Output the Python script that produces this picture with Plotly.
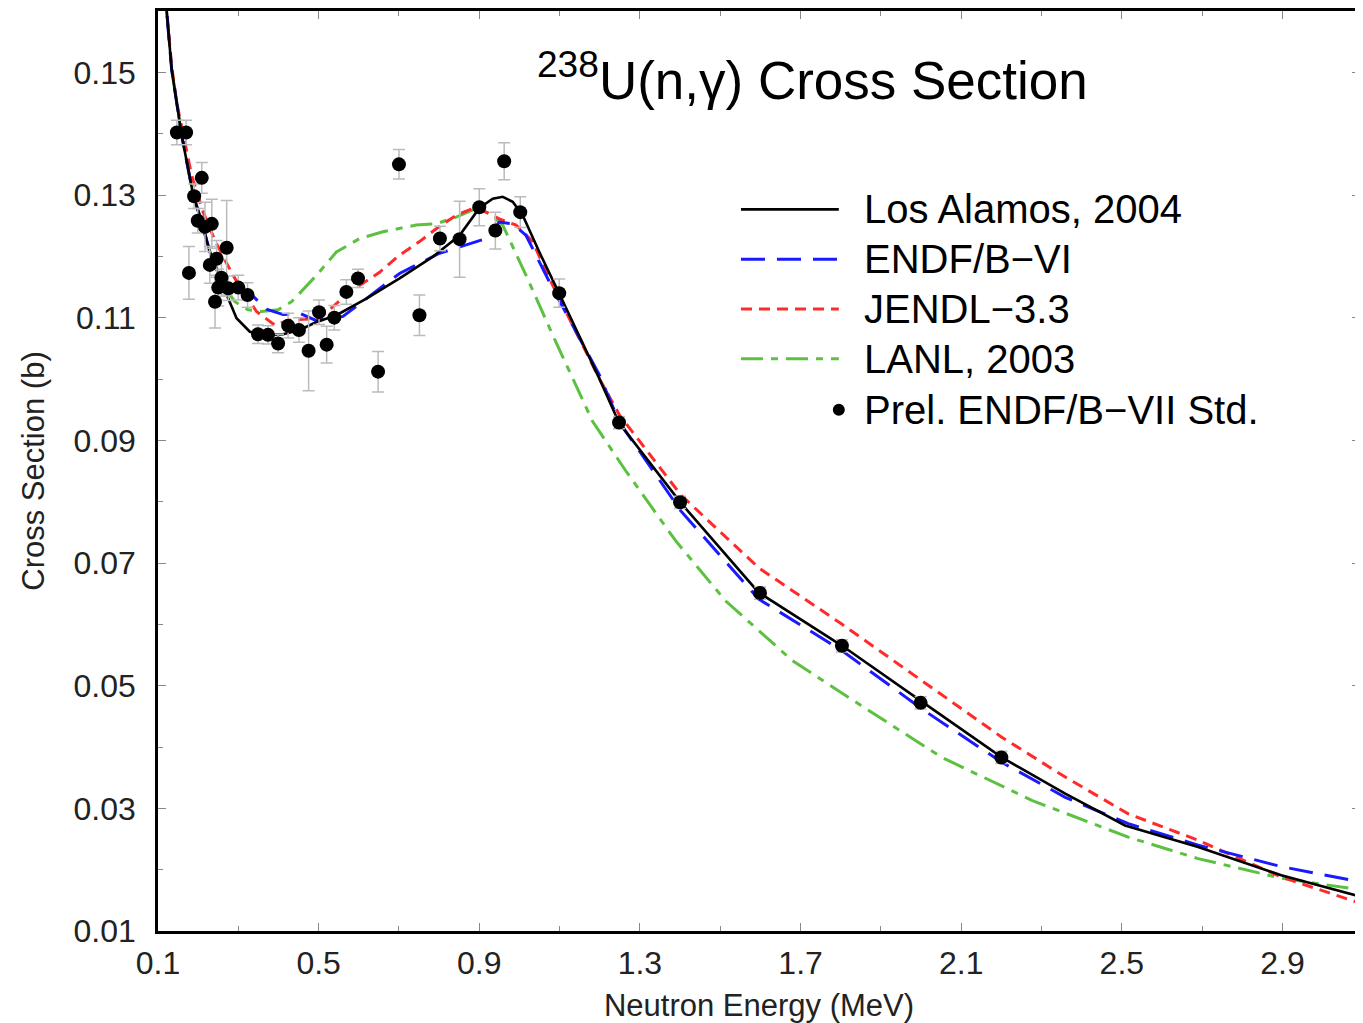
import plotly.graph_objects as go

# Los Alamos, 2004 evaluation
lanl04_e = [0.115, 0.1216, 0.134, 0.159, 0.1753, 0.1877, 0.2086, 0.2293, 0.2541, 0.2708,
            0.2956, 0.3287, 0.370, 0.4115, 0.453, 0.4945, 0.5442, 0.6188, 0.7015, 0.7836,
            0.8507, 0.9004, 0.9335, 0.9583, 0.9832, 1.008, 1.0495, 1.0993, 1.1987, 1.2484,
            1.4018, 1.5954, 1.8035, 2.002, 2.201, 2.359, 2.508, 2.690, 2.897, 3.095]
lanl04_xs = [0.165, 0.160, 0.1505, 0.1397, 0.1343, 0.130, 0.1256, 0.1207, 0.1164, 0.1137,
             0.1099, 0.1077, 0.1072, 0.1073, 0.108, 0.1093, 0.1104, 0.1131, 0.1164, 0.1199,
             0.1234, 0.1279, 0.1294, 0.1297, 0.1289, 0.1267, 0.1207, 0.1139, 0.1001, 0.0928,
             0.0798, 0.0652, 0.0565, 0.0474, 0.0383, 0.0324, 0.0272, 0.0237, 0.0191, 0.0156]

# ENDF/B-VI
endf6_e = [0.115, 0.1216, 0.134, 0.159, 0.1753, 0.1877, 0.2086, 0.2293, 0.2541, 0.279,
           0.3287, 0.370, 0.4115, 0.453, 0.4945, 0.5606, 0.6188, 0.7015, 0.801, 0.8673,
           0.917, 0.950, 0.9832, 1.0165, 1.0826, 1.1987, 1.2484, 1.4018, 1.596, 1.8035,
           2.002, 2.201, 2.359, 2.516, 2.690, 2.897, 3.095]
endf6_xs = [0.165, 0.160, 0.1505, 0.1397, 0.1343, 0.130, 0.1256, 0.1207, 0.1168, 0.1153,
            0.114, 0.1114, 0.1105, 0.1107, 0.1095, 0.1102, 0.1131, 0.1172, 0.1205, 0.1218,
            0.1229, 0.1256, 0.1253, 0.1234, 0.1148, 0.1007, 0.0930, 0.0785, 0.0641, 0.0557,
            0.0462, 0.0375, 0.0318, 0.0275, 0.0240, 0.0205, 0.0180]

# JENDL-3.3
jendl_e = [0.115, 0.1216, 0.134, 0.1465, 0.1838, 0.2126, 0.2417, 0.2665, 0.2914, 0.3453,
           0.3908, 0.4281, 0.5027, 0.5773, 0.6518, 0.7015, 0.7513, 0.7928, 0.8425, 0.8838,
           0.917, 0.950, 0.9916, 1.0329, 1.0744, 1.1987, 1.2484, 1.4018, 1.596, 1.8035,
           2.002, 2.201, 2.359, 2.516, 2.690, 2.897, 3.095]
jendl_xs = [0.165, 0.160, 0.151, 0.1451, 0.1332, 0.1272, 0.1226, 0.1194, 0.1164, 0.111,
            0.1088, 0.1096, 0.1099, 0.1142, 0.1174, 0.1202, 0.1224, 0.1245, 0.1267, 0.1278,
            0.1272, 0.1261, 0.1251, 0.1224, 0.1164, 0.1001, 0.0942, 0.0811, 0.0692, 0.0600,
            0.0508, 0.0416, 0.0351, 0.0291, 0.0248, 0.0188, 0.0145]

# LANL, 2003
lanl03_e = [0.115, 0.1216, 0.134, 0.159, 0.1753, 0.1877, 0.2086, 0.2293, 0.2499, 0.2914,
            0.3245, 0.3578, 0.399, 0.4323, 0.453, 0.4945, 0.5442, 0.6021, 0.660, 0.743,
            0.7928, 0.8425, 0.8922, 0.9253, 0.9583, 1.0165, 1.0826, 1.182, 1.265, 1.3893,
            1.5136, 1.6792, 1.845, 2.052, 2.2757, 2.516, 2.690, 2.897, 3.095]
lanl03_xs = [0.165, 0.160, 0.1505, 0.1397, 0.1343, 0.130, 0.1256, 0.1207, 0.1164, 0.1126,
             0.1113, 0.1110, 0.1113, 0.1126, 0.114, 0.1169, 0.1207, 0.1229, 0.1240, 0.1251,
             0.1253, 0.1264, 0.1278, 0.1270, 0.1251, 0.1169, 0.1072, 0.0931, 0.0850, 0.0736,
             0.0638, 0.0541, 0.0470, 0.0383, 0.0313, 0.0253, 0.0218, 0.0186, 0.0167]

# Prel. ENDF/B-VII standards points
std_e = [0.147, 0.170, 0.177, 0.190, 0.199, 0.209, 0.217, 0.229, 0.234, 0.242,
         0.246, 0.250, 0.258, 0.271, 0.275, 0.300, 0.323, 0.349, 0.374, 0.399,
         0.424, 0.451, 0.475, 0.501, 0.520, 0.539, 0.569, 0.598, 0.648, 0.700,
         0.751, 0.802, 0.851, 0.900, 0.940, 0.962, 1.002, 1.099, 1.248, 1.400,
         1.599, 1.803, 1.999, 2.200]
std_xs = [0.1402, 0.1402, 0.1173, 0.1298, 0.1258, 0.1328, 0.1248, 0.1186, 0.1253, 0.1126,
          0.1196, 0.1149, 0.1165, 0.1214, 0.1148, 0.1149, 0.1137, 0.1073, 0.1072, 0.1058,
          0.1087, 0.1080, 0.1046, 0.1109, 0.1056, 0.1100, 0.1142, 0.1164, 0.1012, 0.1350,
          0.1104, 0.1229, 0.1228, 0.1280, 0.1242, 0.1355, 0.1272, 0.1140, 0.0929, 0.0799,
          0.0651, 0.0565, 0.0472, 0.0383]
std_err = [0.002, 0.002, 0.0043, 0.002, 0.002, 0.0025, 0.004, 0.003, 0.004, 0.0043,
           0.003, 0.003, 0.003, 0.0077, 0.002, 0.002, 0.002, 0.0015, 0.0015, 0.0015,
           0.002, 0.002, 0.0065, 0.002, 0.003, 0.002, 0.002, 0.0015, 0.0033, 0.0024,
           0.0033, 0.002, 0.0062, 0.003, 0.003, 0.003, 0.0025, 0.0023, 0.001, 0.001,
           0.001, 0.001, 0.001, 0.001]

labels = ["Los Alamos, 2004", "ENDF/B\u2212VI", "JENDL\u22123.3", "LANL, 2003",
          "Prel. ENDF/B\u2212VII Std."]

FONT = "Liberation Sans, Arial, sans-serif"
BLUE = "#1a1aff"
RED = "#ff2b2b"
GREEN = "#5cc040"
DASH_BLUE = "24px,12px"
DASH_RED = "11px,7px"
DASH_GREEN = "22px,8px,7px,8px"

fig = go.Figure()

fig.add_trace(go.Scatter(x=lanl03_e, y=lanl03_xs, mode="lines",
                         line=dict(color=GREEN, width=3, dash=DASH_GREEN)))
fig.add_trace(go.Scatter(x=jendl_e, y=jendl_xs, mode="lines",
                         line=dict(color=RED, width=3, dash=DASH_RED)))
fig.add_trace(go.Scatter(x=endf6_e, y=endf6_xs, mode="lines",
                         line=dict(color=BLUE, width=3, dash=DASH_BLUE)))
fig.add_trace(go.Scatter(x=lanl04_e, y=lanl04_xs, mode="lines",
                         line=dict(color="black", width=2.6)))
fig.add_trace(go.Scatter(x=std_e, y=std_xs, mode="markers",
                         marker=dict(color="black", size=14),
                         error_y=dict(type="data", array=std_err, color="#bbbbbb",
                                      thickness=1.5, width=6)))

# hand-drawn legend (long line samples like the original)
rows = [0.7844, 0.7302, 0.676, 0.6219, 0.5666]
styles = [("black", "solid", 2.6), (BLUE, DASH_BLUE, 3), (RED, DASH_RED, 3),
          (GREEN, DASH_GREEN, 3)]
for yy, (col, dash, w) in zip(rows[:4], styles):
    fig.add_shape(type="line", xref="paper", yref="paper", x0=0.485, x1=0.5664,
                  y0=yy, y1=yy, line=dict(color=col, width=w, dash=dash))
fig.add_shape(type="circle", xref="paper", yref="paper", xsizemode="pixel",
              ysizemode="pixel", xanchor=0.5664, yanchor=rows[4],
              x0=-6, x1=6, y0=-6, y1=6, fillcolor="black", line=dict(width=0))
for yy, lab in zip(rows, labels):
    fig.add_annotation(xref="paper", yref="paper", x=0.5855, y=yy, text=lab,
                       showarrow=False, xanchor="left", yanchor="middle",
                       font=dict(family=FONT, size=40, color="black"))

fig.add_annotation(xref="paper", yref="paper", x=0.5445, y=0.929,
                   text="<sup>238</sup>U(n,\u03b3) Cross Section", showarrow=False,
                   xanchor="center", yanchor="middle",
                   font=dict(family=FONT, size=53, color="black"))

axis_common = dict(showgrid=False, zeroline=False, showline=True, linecolor="black",
                   linewidth=2.5, mirror="allticks", ticks="inside", ticklen=8,
                   tickcolor="#888888", tickwidth=1.2,
                   tickfont=dict(family=FONT, size=32, color="#222222"))

fig.update_xaxes(range=[0.1, 3.093], tick0=0.1, dtick=0.4,
                 minor=dict(dtick=0.2, tick0=0.1, ticks="inside", ticklen=5,
                            tickcolor="#888888"),
                 title=dict(text="Neutron Energy (MeV)", standoff=16,
                            font=dict(family=FONT, size=31, color="#222222")),
                 ticklabelstandoff=2, **axis_common)
fig.update_yaxes(range=[0.01, 0.16], tick0=0.01, dtick=0.02, tickformat=".2f",
                 minor=dict(dtick=0.01, tick0=0.01, ticks="inside", ticklen=5,
                            tickcolor="#888888"),
                 title=dict(text="Cross Section (b)", standoff=20,
                            font=dict(family=FONT, size=31, color="#222222")),
                 ticklabelstandoff=13, **axis_common)

# the page body adds an 8px offset, so the figure is sized to compensate
fig.update_layout(width=1355, height=1015, showlegend=False,
                  plot_bgcolor="white", paper_bgcolor="white",
                  margin=dict(l=150, r=1, t=0, b=92))

fig.write_html("out.html")
